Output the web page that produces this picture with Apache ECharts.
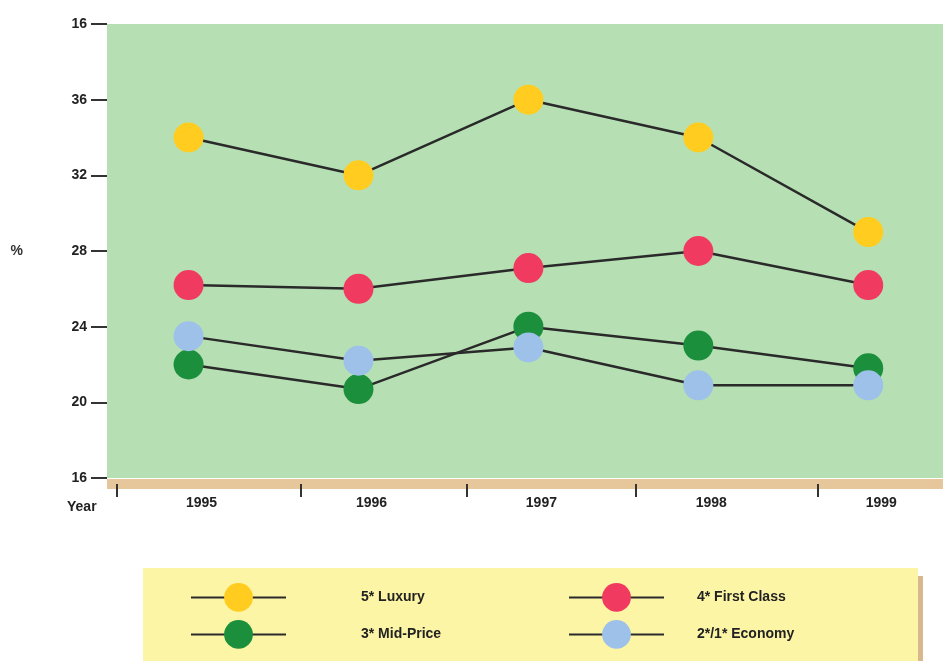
<!DOCTYPE html>
<html>
<head>
<meta charset="utf-8">
<style>
  html, body { margin: 0; padding: 0; background: #ffffff; }
  #chart { width: 943px; height: 661px; }
</style>
<script src="https://cdn.jsdelivr.net/npm/echarts@6/dist/echarts.min.js"></script>
</head>
<body>
<div id="chart"></div>
<script>
// Hotel occupancy share by star rating, 1995-1999 (%)
const years = [1995, 1996, 1997, 1998, 1999];
const luxury = [34, 32, 36, 34, 29];
const firstClass = [26.2, 26, 27.1, 28, 26.2];
const midPrice = [22, 20.7, 24, 23, 21.8];
const economy = [23.5, 22.2, 22.9, 20.9, 20.9];
const seriesNames = ['5* Luxury', '4* First Class', '3* Mid-Price', '2*/1* Economy'];
const yTickLabels = ['16', '20', '24', '28', '32', '36', '16'];
const xTickValues = [1994.58, 1995.66, 1996.64, 1997.63, 1998.7];

const FONT = "'Liberation Sans Narrow', 'Liberation Sans', Arial, sans-serif";
const colors = ['#ffcc1f', '#f03a60', '#1b8f3c', '#9dc1e9'];
const values = [luxury, firstClass, midPrice, economy];

const chart = echarts.init(document.getElementById('chart'), null, { renderer: 'canvas' });

function pairs(vals) {
  return years.map((y, i) => [y, vals[i]]);
}

const series = seriesNames.map((name, i) => ({
  name: name,
  type: 'line',
  data: pairs(values[i]),
  symbol: 'circle',
  symbolSize: 30,
  z: 2 + i,
  itemStyle: { color: colors[i], borderWidth: 0 },
  lineStyle: { color: '#2a2a2a', width: 2.5 },
  emphasis: { disabled: true },
  animation: false
}));

// one legend block per entry, laid out as a 2 x 2 key
const legendSlots = [
  { left: 190, top: 583 },
  { left: 568, top: 583 },
  { left: 190, top: 620 },
  { left: 568, top: 620 }
];
const legends = seriesNames.map((name, i) => ({
  data: [name],
  left: legendSlots[i].left,
  top: legendSlots[i].top,
  padding: 0,
  itemWidth: 95,
  itemHeight: 36,
  selectedMode: false,
  textStyle: {
    fontFamily: FONT,
    fontWeight: 'bold',
    fontSize: 14,
    color: '#222',
    padding: [0, 0, 0, i % 2 === 0 ? 70 : 28]
  }
}));

chart.setOption({
  backgroundColor: '#ffffff',
  animation: false,
  grid: {
    left: 107,
    right: 0,
    top: 24,
    bottom: 183,
    show: true,
    backgroundColor: '#b6e0b3',
    borderWidth: 0
  },
  xAxis: {
    type: 'value',
    min: 1994.52,
    max: 1999.44,
    offset: 6,
    splitLine: { show: false },
    axisLine: { show: true, lineStyle: { color: '#e6c69b', width: 10, cap: 'butt' } },
    axisTick: {
      show: true,
      customValues: xTickValues,
      length: 13,
      lineStyle: { color: '#333', width: 2 }
    },
    axisLabel: {
      customValues: years,
      formatter: v => String(v),
      margin: 12,
      padding: [0, 0, 0, 26],
      fontFamily: FONT,
      fontWeight: 'bold',
      fontSize: 14,
      color: '#222'
    }
  },
  yAxis: {
    type: 'value',
    min: 16,
    max: 40,
    interval: 4,
    name: '%',
    nameLocation: 'middle',
    nameRotate: 0,
    nameGap: 84,
    nameTextStyle: { fontFamily: FONT, fontWeight: 'bold', fontSize: 14, color: '#333' },
    splitLine: { show: false },
    axisLine: { show: false },
    axisTick: { show: true, length: 16, lineStyle: { color: '#333', width: 2 } },
    axisLabel: {
      margin: 20,
      formatter: v => yTickLabels[Math.round((v - 16) / 4)],
      fontFamily: FONT,
      fontWeight: 'bold',
      fontSize: 14,
      color: '#222'
    }
  },
  legend: legends,
  graphic: [
    { type: 'rect', z: -1, shape: { x: 918, y: 576, width: 5, height: 90 }, style: { fill: '#d8b98e' } },
    { type: 'rect', z: -1, shape: { x: 143, y: 568, width: 775, height: 100 }, style: { fill: '#fdf5a6' } },
    {
      type: 'text', left: 67, top: 500,
      style: { text: 'Year', font: "bold 14px " + FONT, fill: '#222' }
    }
  ],
  series: series
});
</script>
</body>
</html>
